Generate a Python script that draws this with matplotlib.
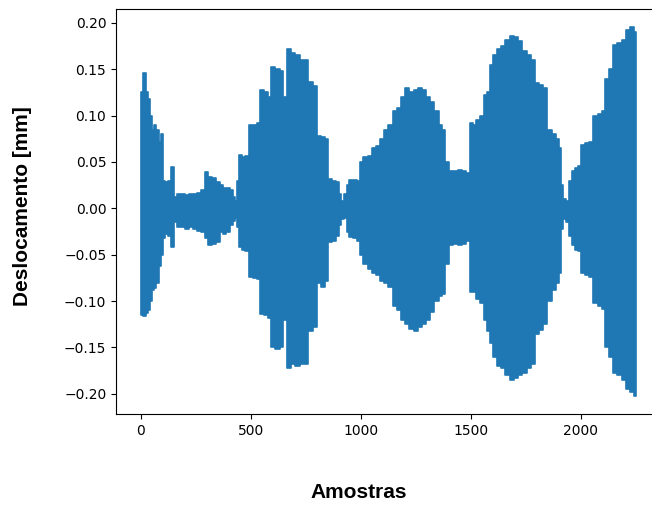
import numpy as np
import matplotlib
matplotlib.use("Agg")
import matplotlib.pyplot as plt

# Envoltória do sinal (amostra, pico superior, pico inferior)
amostras = [0, 4, 19, 28, 38, 47, 57, 66, 76, 85, 95, 104, 118, 133, 145, 156,
            171, 190, 209, 228, 247, 266, 285, 296, 313, 332, 351, 366, 380, 399,
            413, 423, 432, 442, 451, 466, 485, 499, 518, 537, 551, 570, 584, 603,
            622, 641, 656, 675, 694, 713, 732, 751, 770, 794, 808, 827, 846, 860,
            879, 893, 908, 917, 931, 941, 955, 974, 989, 1003, 1022, 1041, 1060,
            1079, 1098, 1117, 1136, 1155, 1174, 1193, 1212, 1231, 1250, 1269,
            1288, 1307, 1326, 1345, 1364, 1378, 1393, 1412, 1431, 1450, 1469,
            1488, 1502, 1516, 1535, 1554, 1569, 1583, 1597, 1611, 1630, 1649,
            1668, 1688, 1707, 1726, 1745, 1764, 1783, 1802, 1821, 1840, 1859,
            1878, 1897, 1906, 1916, 1925, 1940, 1954, 1968, 1982, 1997, 2011,
            2030, 2049, 2068, 2087, 2106, 2120, 2139, 2158, 2177, 2196, 2215,
            2234, 2251]

pico_sup = [0.120, 0.125, 0.146, 0.125, 0.118, 0.100, 0.085, 0.090, 0.085, 0.072,
            0.080, 0.030, 0.028, 0.030, 0.045, 0.012, 0.015, 0.016, 0.014, 0.015,
            0.015, 0.017, 0.020, 0.039, 0.034, 0.033, 0.028, 0.025, 0.022, 0.022,
            0.020, 0.012, 0.008, 0.030, 0.058, 0.055, 0.056, 0.090, 0.090, 0.092,
            0.128, 0.125, 0.120, 0.152, 0.150, 0.148, 0.120, 0.172, 0.168, 0.165,
            0.160, 0.160, 0.136, 0.132, 0.078, 0.077, 0.075, 0.032, 0.030, 0.028,
            0.015, 0.008, 0.015, 0.025, 0.031, 0.031, 0.030, 0.050, 0.055, 0.056,
            0.065, 0.067, 0.075, 0.085, 0.090, 0.105, 0.108, 0.120, 0.130, 0.125,
            0.128, 0.130, 0.128, 0.120, 0.115, 0.105, 0.090, 0.085, 0.050, 0.040,
            0.040, 0.041, 0.040, 0.038, 0.092, 0.090, 0.095, 0.100, 0.122, 0.125,
            0.155, 0.165, 0.172, 0.175, 0.182, 0.186, 0.185, 0.180, 0.170, 0.165,
            0.160, 0.135, 0.133, 0.130, 0.085, 0.080, 0.075, 0.065, 0.025, 0.010,
            0.008, 0.030, 0.040, 0.044, 0.046, 0.068, 0.070, 0.072, 0.100, 0.102,
            0.105, 0.140, 0.150, 0.176, 0.178, 0.182, 0.192, 0.195, 0.190]

pico_inf = [-0.112, -0.115, -0.116, -0.113, -0.110, -0.100, -0.088, -0.086, -0.080,
            -0.062, -0.050, -0.032, -0.028, -0.030, -0.042, -0.015, -0.020, -0.020,
            -0.022, -0.020, -0.022, -0.024, -0.025, -0.032, -0.040, -0.038, -0.036,
            -0.025, -0.028, -0.026, -0.018, -0.014, -0.010, -0.020, -0.042, -0.045,
            -0.046, -0.074, -0.075, -0.076, -0.114, -0.115, -0.118, -0.150, -0.152,
            -0.150, -0.120, -0.172, -0.168, -0.170, -0.168, -0.168, -0.132, -0.128,
            -0.080, -0.085, -0.078, -0.036, -0.035, -0.030, -0.018, -0.012, -0.010,
            -0.025, -0.031, -0.032, -0.035, -0.050, -0.060, -0.065, -0.070, -0.072,
            -0.078, -0.080, -0.085, -0.105, -0.110, -0.120, -0.125, -0.130, -0.132,
            -0.128, -0.125, -0.120, -0.112, -0.100, -0.095, -0.092, -0.060, -0.039,
            -0.038, -0.040, -0.038, -0.035, -0.090, -0.090, -0.098, -0.102, -0.120,
            -0.132, -0.145, -0.160, -0.170, -0.172, -0.180, -0.185, -0.183, -0.180,
            -0.178, -0.172, -0.168, -0.135, -0.131, -0.125, -0.100, -0.088, -0.080,
            -0.070, -0.022, -0.012, -0.015, -0.030, -0.040, -0.045, -0.046, -0.070,
            -0.072, -0.074, -0.102, -0.105, -0.108, -0.150, -0.160, -0.178, -0.180,
            -0.185, -0.195, -0.198, -0.202]

cor = "#1f77b4"

fig = plt.figure(figsize=(6.52, 5.05), dpi=100)
ax = fig.add_axes([0.178, 0.180, 0.835, 0.802])

ax.fill_between(amostras, pico_inf, pico_sup, step="mid", color=cor,
                edgecolor=cor, linewidth=1.2)

ax.margins(x=0.05, y=0.05)
ax.set_xticks([0, 500, 1000, 1500, 2000])
ax.set_yticks(np.arange(-0.20, 0.201, 0.05))
ax.spines["right"].set_visible(False)

fig.text(359 / 652, 1 - 492 / 505, "Amostras", ha="center", va="center",
         fontsize=15, fontweight="bold", family="Liberation Sans")
fig.text(23 / 652, 1 - 206 / 505, "Deslocamento [mm]", ha="center", va="center",
         rotation=90, fontsize=15, fontweight="bold", family="Liberation Sans")

plt.savefig("out.png", dpi=100)
